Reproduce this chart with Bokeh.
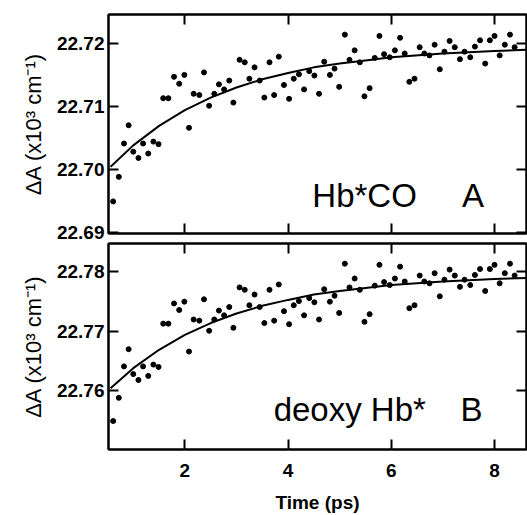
from bokeh.plotting import figure
from bokeh.layouts import column
from bokeh.models import LinearAxis, FixedTicker, PrintfTickFormatter, Label, Range1d
from bokeh.embed import file_html
from bokeh.resources import INLINE

# ---- data ----
time_ps = [0.61, 0.72, 0.82, 0.91, 1.00, 1.10, 1.19, 1.29, 1.39, 1.49,
           1.58, 1.68, 1.79, 1.89, 1.99, 2.08, 2.17, 2.28, 2.37, 2.47,
           2.57, 2.66, 2.76, 2.86, 2.94, 3.06, 3.16, 3.25, 3.35, 3.45,
           3.54, 3.64, 3.73, 3.82, 3.92, 4.02, 4.11, 4.21, 4.31, 4.41,
           4.51, 4.60, 4.70, 4.81, 4.90, 4.99, 5.10, 5.19, 5.29, 5.39,
           5.48, 5.58, 5.68, 5.77, 5.86, 5.97, 6.07, 6.17, 6.26, 6.35,
           6.45, 6.55, 6.64, 6.74, 6.84, 6.94, 7.03, 7.13, 7.23, 7.33,
           7.42, 7.53, 7.62, 7.72, 7.82, 7.91, 8.00, 8.10, 8.20, 8.30,
           8.39]

hbco_values = [22.6949, 22.6988, 22.7041, 22.7070, 22.7028, 22.7018, 22.7041, 22.7025, 22.7044, 22.7040,
               22.7113, 22.7113, 22.7147, 22.7136, 22.7150, 22.7066, 22.7120, 22.7118, 22.7154, 22.7101,
               22.7120, 22.7135, 22.7127, 22.7141, 22.7106, 22.7174, 22.7170, 22.7144, 22.7162, 22.7141,
               22.7114, 22.7170, 22.7118, 22.7179, 22.7134, 22.7112, 22.7144, 22.7151, 22.7127, 22.7156,
               22.7149, 22.7120, 22.7171, 22.7150, 22.7160, 22.7131, 22.7214, 22.7174, 22.7189, 22.7170,
               22.7116, 22.7129, 22.7177, 22.7212, 22.7183, 22.7178, 22.7189, 22.7209, 22.7184, 22.7139,
               22.7144, 22.7194, 22.7184, 22.7181, 22.7198, 22.7159, 22.7187, 22.7204, 22.7194, 22.7175,
               22.7187, 22.7178, 22.7195, 22.7205, 22.7168, 22.7205, 22.7212, 22.7181, 22.7198, 22.7214,
               22.7194]

deoxy_values = [22.7549, 22.7588, 22.7641, 22.7670, 22.7628, 22.7618, 22.7641, 22.7625, 22.7644, 22.7640,
                22.7713, 22.7713, 22.7747, 22.7736, 22.7750, 22.7666, 22.7720, 22.7718, 22.7754, 22.7701,
                22.7720, 22.7735, 22.7727, 22.7741, 22.7706, 22.7774, 22.7770, 22.7744, 22.7762, 22.7741,
                22.7714, 22.7770, 22.7718, 22.7779, 22.7734, 22.7712, 22.7744, 22.7751, 22.7727, 22.7756,
                22.7749, 22.7720, 22.7771, 22.7750, 22.7760, 22.7731, 22.7814, 22.7774, 22.7789, 22.7770,
                22.7716, 22.7729, 22.7777, 22.7812, 22.7783, 22.7778, 22.7789, 22.7809, 22.7784, 22.7739,
                22.7744, 22.7794, 22.7784, 22.7781, 22.7798, 22.7759, 22.7787, 22.7804, 22.7794, 22.7775,
                22.7787, 22.7778, 22.7795, 22.7805, 22.7768, 22.7805, 22.7812, 22.7781, 22.7798, 22.7814,
                22.7794]

fit_time = [0.56, 1.0, 1.5, 2.0, 2.5, 3.0, 3.5, 4.0, 4.5, 5.0, 5.5, 6.0, 7.0, 8.0, 8.62]
hbco_fit = [22.7004, 22.7038, 22.7069, 22.7094, 22.7114, 22.7130, 22.7143, 22.7153,
            22.7162, 22.7168, 22.7173, 22.7178, 22.7184, 22.7188, 22.7190]
deoxy_fit = [22.7604, 22.7638, 22.7669, 22.7694, 22.7714, 22.7730, 22.7743, 22.7753,
             22.7762, 22.7768, 22.7773, 22.7778, 22.7784, 22.7788, 22.7790]

x_ticks = [2, 4, 6, 8]
hbco_ticks = [22.69, 22.70, 22.71, 22.72]
deoxy_ticks = [22.76, 22.77, 22.78]

Y_LABEL = "ΔA (x10³ cm⁻¹)"
X_LABEL = "Time (ps)"

FONT = "Liberation Sans"
X_RANGE = (0.52, 8.62)


def make_axis(ticks, show_labels, fmt=None):
    ax = LinearAxis(ticker=FixedTicker(ticks=ticks))
    ax.major_tick_in = 10
    ax.major_tick_out = 0
    ax.minor_tick_line_color = None
    ax.axis_line_width = 2
    ax.major_tick_line_width = 2
    ax.major_label_text_font = FONT
    ax.major_label_text_font_style = "bold"
    ax.major_label_text_font_size = "19px"
    ax.axis_label_text_color = "black"
    if fmt:
        ax.formatter = PrintfTickFormatter(format=fmt)
    if show_labels:
        ax.major_label_text_color = "black"
    else:
        ax.major_label_text_color = None
        ax.major_label_standoff = 0
    return ax


def make_panel(values, fit, yrange, yticks, height, top_b, bottom_b, show_x):
    p = figure(width=527, height=height, output_backend="svg", toolbar_location=None,
               x_range=Range1d(*X_RANGE), y_range=Range1d(*yrange),
               x_axis_location=None, y_axis_location=None,
               min_border_left=108, min_border_right=1,
               min_border_top=top_b, min_border_bottom=bottom_b)
    p.xgrid.visible = False
    p.ygrid.visible = False
    p.outline_line_color = "black"
    p.outline_line_width = 2
    p.background_fill_color = "white"
    p.border_fill_color = "white"

    p.scatter(time_ps, values, size=5, color="black")
    p.line(fit_time, fit, line_width=2, color="black")

    yax = make_axis(yticks, True, "%.2f")
    yax.major_label_standoff = 4
    yax.axis_label = Y_LABEL
    yax.axis_label_text_font = FONT
    yax.axis_label_text_font_style = "normal"
    yax.axis_label_text_font_size = "22px"
    yax.axis_label_standoff = 8
    p.add_layout(yax, "left")
    p.add_layout(make_axis(yticks, False), "right")
    p.add_layout(make_axis(x_ticks, False), "above")

    bax = make_axis(x_ticks, show_x)
    if show_x:
        bax.major_label_standoff = 14
        bax.axis_label = X_LABEL
        bax.axis_label_text_font = FONT
        bax.axis_label_text_font_style = "bold"
        bax.axis_label_text_font_size = "19px"
        bax.axis_label_standoff = 12
    p.add_layout(bax, "below")
    return p


# panel A frame: y 14..233 ; panel B frame: y 243..450 (page starts at 0)
p1 = make_panel(hbco_values, hbco_fit, (22.6898, 22.7246), hbco_ticks, 242, 14, 9, False)
p2 = make_panel(deoxy_values, deoxy_fit, (22.7501, 22.7848), deoxy_ticks, 273, 1, 65, True)

for p, txt, xa, ya in [(p1, "Hb*CO", 4.47, 22.6959), (p1, "A", 7.37, 22.6959),
                       (p2, "deoxy Hb*", 3.72, 22.7568), (p2, "B", 7.34, 22.7568)]:
    p.add_layout(Label(x=xa, y=ya, text=txt, text_font=FONT, text_font_size="33px",
                       text_color="black", text_baseline="alphabetic"))

layout = column(p1, p2, spacing=0)

html = file_html(layout, INLINE)
open("out.html", "w").write(html)
